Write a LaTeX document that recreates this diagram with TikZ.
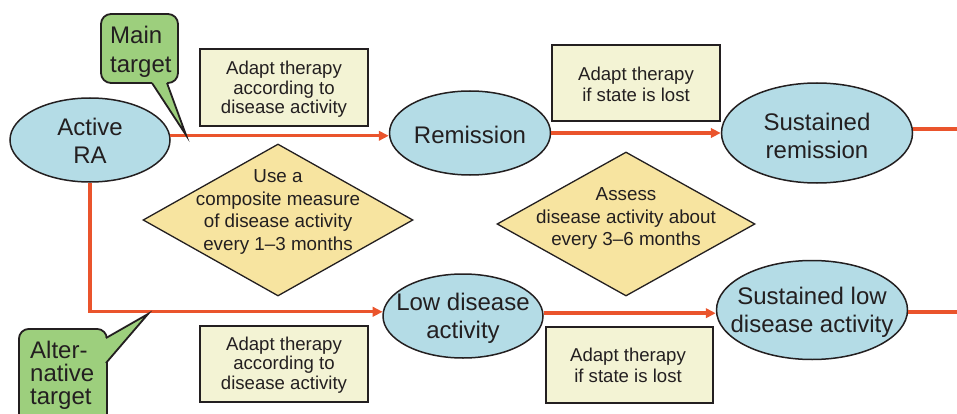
\documentclass[tikz,border=0pt]{standalone}
\usepackage{fontspec}
\setmainfont{Liberation Sans}
\usetikzlibrary{shapes.geometric,arrows.meta,calc}
\definecolor{ellfill}{RGB}{180,220,230}
\definecolor{diafill}{RGB}{247,228,160}
\definecolor{boxfill}{RGB}{243,243,212}
\definecolor{callfill}{RGB}{157,207,125}
\definecolor{arrowred}{RGB}{234,84,44}
\definecolor{ink}{RGB}{35,31,32}
\begin{document}
\begin{tikzpicture}[x=1pt,y=-1pt,
  rastate/.style={ellipse, draw=ink, line width=1.5pt, fill=ellfill, inner sep=0pt},
  statetext/.style={align=center, text=ink, inner sep=0pt, font=\fontsize{24}{28}\selectfont},
  infobox/.style={rectangle, draw=ink, line width=2pt, fill=boxfill, inner sep=0pt, minimum width=168pt, minimum height=76pt},
  boxtext/.style={align=center, text=ink, inner sep=0pt},
  boxfontA/.style={font=\fontsize{18.6}{19.5}\selectfont},
  boxfontB/.style={font=\fontsize{18.6}{21.5}\selectfont},
  checkdia/.style={diamond, draw=ink, line width=1.3pt, fill=diafill, inner sep=0pt},
  diatext/.style={align=center, text=ink, inner sep=0pt, font=\fontsize{18.8}{22.5}\selectfont},
  callbox/.style={rectangle, rounded corners=10pt, draw=ink, line width=1.8pt, fill=callfill, inner sep=0pt},
  calltext/.style={align=left, text=ink, inner sep=0pt},
  pointerline/.style={draw=ink, line width=1.8pt, line join=miter},
  flow/.style={draw=arrowred, line width=3.4pt},
  flowarr/.style={flow, -{Triangle[length=10pt,width=9.5pt]}},
]
\useasboundingbox (0,0) rectangle (957,414);
\clip (0,0) rectangle (957,414);

% state ellipses
\node[rastate, minimum width=160pt, minimum height=84pt] (ara) at (90,140) {};
\node[statetext] (araT) at (90,141) {Active\\RA};
\node[rastate, minimum width=161pt, minimum height=84pt] (rem) at (470,133) {};
\node[statetext] (remT) at (470,134.5) {Remission};
\node[rastate, minimum width=191pt, minimum height=100pt] (srem) at (817,133) {};
\node[statetext] (sremT) at (817,135.5) {Sustained\\remission};
\node[rastate, minimum width=160pt, minimum height=84pt] (lda) at (463,316) {};
\node[statetext] (ldaT) at (463,318) {Low disease\\activity};
\node[rastate, minimum width=191pt, minimum height=99pt] (slda) at (812,310) {};
\node[statetext] (sldaT) at (812,312) {Sustained low\\disease activity};

% decision diamonds
\node[checkdia, minimum width=270pt, minimum height=152pt] (d1) at (278,220) {};
\node[diatext] (d1T) at (278,212) {Use a\\composite measure\\of disease activity\\every 1--3 months};
\node[checkdia, minimum width=258pt, minimum height=144pt] (d2) at (626,224) {};
\node[diatext] (d2T) at (626,218.5) {Assess\\disease activity about\\every 3--6 months};

% info boxes
\node[infobox, minimum height=77pt] (b1) at (284,87.5) {};
\node[boxtext, boxfontA] (b1T) at (284,89.5) {Adapt therapy\\according to\\disease activity};
\node[infobox] (b2) at (636,83) {};
\node[boxtext, boxfontB] (b2T) at (636,84.5) {Adapt therapy\\if state is lost};
\node[infobox] (b3) at (284,364) {};
\node[boxtext, boxfontA] (b3T) at (284,365) {Adapt therapy\\according to\\disease activity};
\node[infobox, minimum width=167pt] (b4) at (629.5,365) {};
\node[boxtext, boxfontB] (b4T) at (628,365.5) {Adapt therapy\\if state is lost};

% connectors
\coordinate (exitTop) at (957,129);
\coordinate (exitBot) at (957,312);
\draw[flowarr] (ara.3) -- (ara.3 -| rem.west);
\draw[flowarr] (rem) -- (srem);
\draw[flow] (exitTop -| srem.east) -- (exitTop);
\draw[flowarr] (ara.south) |- (lda.177);
\draw[flowarr] (lda.2) -- (lda.2 -| slda.west);
\draw[flow] (exitBot -| slda.east) -- (exitBot);

% callout: main target
\node[callbox, minimum width=77pt, minimum height=69pt] (mt) at (139.5,48.5) {};
\coordinate (mtTip) at (186,135);
\fill[callfill] (152,83) -- (mtTip) -- (167,83) -- (167,79) -- (152,79) -- cycle;
\draw[pointerline] (152,83) -- (mtTip) -- (167,83);
\node[calltext, anchor=north west, font=\fontsize{24}{29}\selectfont] (mtT) at (110,26) {Main\\target};

% callout: alternative target
\node[callbox, minimum width=88pt, minimum height=110pt, anchor=north west] (alt) at (18,328) {};
\coordinate (altTip) at (148,314);
\fill[callfill] (106,338) -- (altTip) -- (106,363) -- (102,363) -- (102,338) -- cycle;
\draw[pointerline] (106,338) -- (altTip) -- (106,363);
\node[calltext, anchor=north west, font=\fontsize{24}{23}\selectfont] (altT) at (30,340.5) {Alter-\\native\\target};
\end{tikzpicture}
\end{document}
